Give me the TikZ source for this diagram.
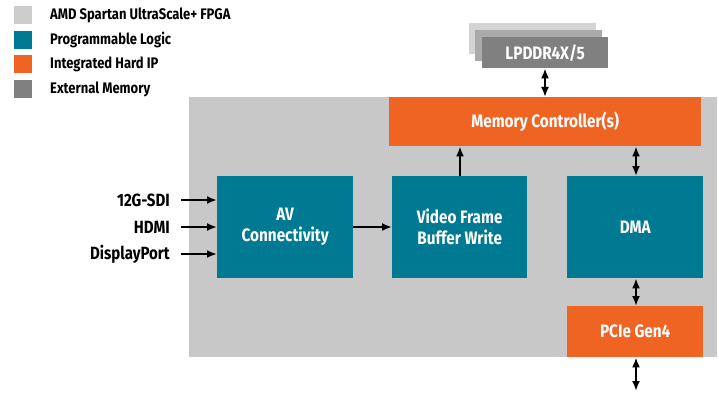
\documentclass[tikz,border=0pt]{standalone}
\usepackage{fontspec}
\setmainfont{Fira Sans}[FakeStretch=0.85]
\usetikzlibrary{arrows.meta}
\definecolor{fpga}{RGB}{200,200,200}
\definecolor{legfpga}{RGB}{204,204,204}
\definecolor{plteal}{RGB}{0,122,146}
\definecolor{hardip}{RGB}{240,100,35}
\definecolor{extmem}{RGB}{128,128,128}
\definecolor{memmid}{RGB}{170,170,170}
\definecolor{memback}{RGB}{212,212,212}
\tikzset{
  legsq/.style={minimum width=18pt,minimum height=18pt,inner sep=0pt,anchor=north west},
  legtxt/.style={anchor=west,font=\bfseries\fontsize{15.3}{17}\selectfont,inner sep=0pt},
  blk/.style={inner sep=0pt,anchor=north west,text=white,align=center,font=\bfseries\fontsize{18}{21}\selectfont},
  conn/.style={line width=2pt,-{Latex[length=10pt,width=8pt]}},
  dconn/.style={line width=2pt,{Latex[length=10pt,width=8pt]}-{Latex[length=10pt,width=8pt]}},
  inlbl/.style={anchor=east,inner sep=0pt,font=\bfseries\fontsize{17.7}{19}\selectfont}
}
\begin{document}
\begin{tikzpicture}[x=1pt,y=-1pt]
\useasboundingbox (0,0) rectangle (719,393);
% legend
\node[legsq,fill=legfpga] (l1) at (14,6) {};
\node[legsq,fill=plteal] (l2) at (14,31) {};
\node[legsq,fill=hardip] (l3) at (14,55) {};
\node[legsq,fill=extmem] (l4) at (14,80) {};
\node[legtxt] (t1) at (50,15) {AMD Spartan UltraScale+ FPGA};
\node[legtxt] (t2) at (50,40) {Programmable Logic};
\node[legtxt] (t3) at (50,64) {Integrated Hard IP};
\node[legtxt] (t4) at (50,89) {External Memory};
% FPGA area
\node[blk,fill=fpga,minimum width=528pt,minimum height=260pt] (fpga) at (189,97) {};
% memory stack
\node[blk,fill=memback,minimum width=127pt,minimum height=31pt] (mb) at (469,23) {};
\node[blk,fill=memmid,minimum width=127pt,minimum height=31pt] (mm) at (475,30) {};
\node[blk,fill=extmem,minimum width=126pt,minimum height=31pt] (mem) at (482,37) {LPDDR4X/5};
% blocks
\node[blk,fill=hardip,minimum width=312pt,minimum height=49pt] (mc) at (389,97) {Memory Controller(s)};
\node[blk,fill=plteal,minimum width=136pt,minimum height=102pt] (av) at (217,176) {AV\\Connectivity};
\node[blk,fill=plteal,minimum width=135pt,minimum height=102pt] (vf) at (392,176) {Video Frame\\Buffer Write};
\node[blk,fill=plteal,minimum width=136pt,minimum height=102pt] (dma) at (567,176) {DMA};
\node[blk,fill=hardip,minimum width=136pt,minimum height=51pt] (pcie) at (567,306) {PCIe Gen4};
% inputs
\node[inlbl] (i1) at (170,200) {12G-SDI};
\node[inlbl] (i2) at (170,227) {HDMI};
\node[inlbl] (i3) at (170,254) {DisplayPort};
\coordinate (pcieout) at (636,391);
% connectors
\draw[conn] ([xshift=11pt]i1.east) -- (av.west |- i1);
\draw[conn] ([xshift=11pt]i2.east) -- (av.west |- i2);
\draw[conn] ([xshift=11pt]i3.east) -- (av.west |- i3);
\draw[conn] (av.east |- 0,227) -- (vf.west |- 0,227);
\draw[conn] (vf.north -| 460,0) -- (mc.south -| 460,0);
\draw[dconn] (mem.south -| 545,0) -- (mc.north -| 545,0);
\draw[dconn] (dma.north -| 636,0) -- (mc.south -| 636,0);
\draw[dconn] (dma.south -| 636,0) -- (pcie.north -| 636,0);
\draw[dconn] (pcie.south -| 636,0) -- (pcieout);
\end{tikzpicture}
\end{document}
